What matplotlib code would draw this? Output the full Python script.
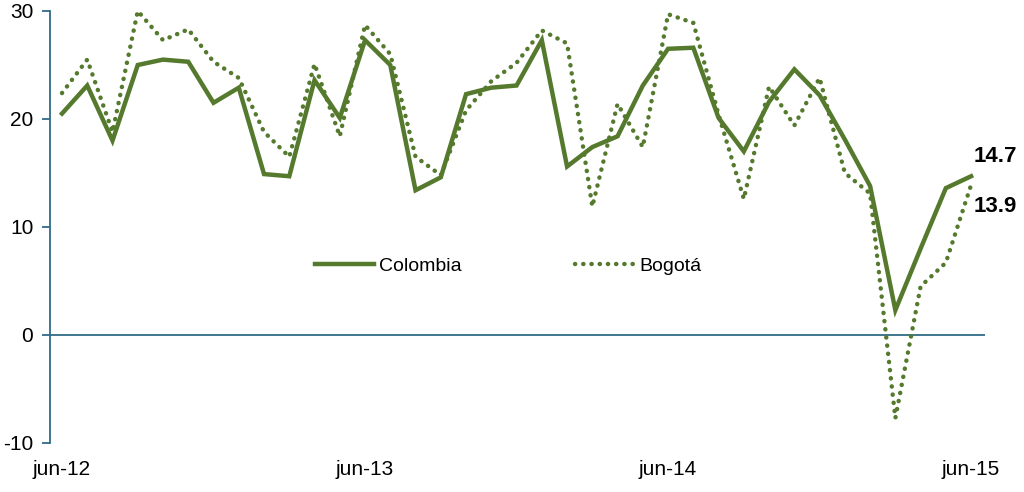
import matplotlib
matplotlib.use("Agg")
import matplotlib.pyplot as plt
import numpy as np

plt.rcParams['font.family'] = ['Liberation Sans', 'DejaVu Sans']
plt.rcParams['axes.unicode_minus'] = False

colombia = [20.5, 23.1, 18.0, 25.0, 25.5, 25.3, 21.5, 22.9, 14.9, 14.7,
            23.6, 20.1, 27.3, 25.0, 13.4, 14.6, 22.3, 22.9, 23.1, 27.3,
            15.6, 17.4, 18.4, 23.1, 26.5, 26.6, 20.1, 17.0, 21.6, 24.6,
            22.2, 18.1, 13.8, 2.3, 8.0, 13.6, 14.7]
bogota = [22.4, 25.5, 18.8, 30.0, 27.3, 28.3, 25.3, 23.8, 18.8, 16.5,
          25.1, 18.4, 28.7, 26.0, 16.5, 14.8, 20.8, 23.5, 25.2, 28.2,
          27.0, 11.9, 21.4, 17.4, 29.7, 28.9, 20.4, 12.6, 23.0, 19.4,
          23.8, 15.0, 13.1, -7.7, 4.5, 6.7, 13.9]
tick_pos = [0, 12, 24, 36]
tick_labels = ['jun-12', 'jun-13', 'jun-14', 'jun-15']
yticks = [-10, 0, 10, 20, 30]

green = '#557a2e'
blue = '#2f6b86'

fig = plt.figure(figsize=(10.24, 4.92), dpi=100)
ax = fig.add_axes([50/1024, 1-443/492, 935/1024, 432/492])
x = np.arange(len(colombia))
ax.plot(x, colombia, color=green, lw=3.2, label='Colombia', solid_joinstyle='miter')
ax.plot(x, bogota, color=green, lw=3.2, linestyle=(0, (0.05, 1.8)),
        dash_capstyle='round', label='Bogotá')
ax.axhline(0, color=blue, lw=1.3, zorder=1)

ax.set_xlim(-0.475, 36.55)
ax.set_ylim(-10, 30)
ax.set_yticks(yticks)
ax.set_xticks(tick_pos)
ax.set_xticklabels(tick_labels)
for s in ['top', 'right', 'bottom']:
    ax.spines[s].set_visible(False)
ax.spines['left'].set_color(blue)
ax.spines['left'].set_linewidth(1.3)
ax.tick_params(axis='y', colors=blue, length=6, width=1.3, labelsize=15, labelcolor='black', pad=6)
ax.tick_params(axis='x', length=0, labelsize=15, labelcolor='black', pad=12)

ax.text(36.1, 16.5, '14.7', fontsize=16, fontweight='bold', va='center', ha='left')
ax.text(36.1, 11.9, '13.9', fontsize=16, fontweight='bold', va='center', ha='left')

leg = ax.legend(loc='center', bbox_to_anchor=(0.49, 0.41), ncol=2, frameon=False,
                fontsize=14, handlelength=3.0, columnspacing=5.8, handletextpad=0.3)

fig.savefig('out.png', dpi=100)
